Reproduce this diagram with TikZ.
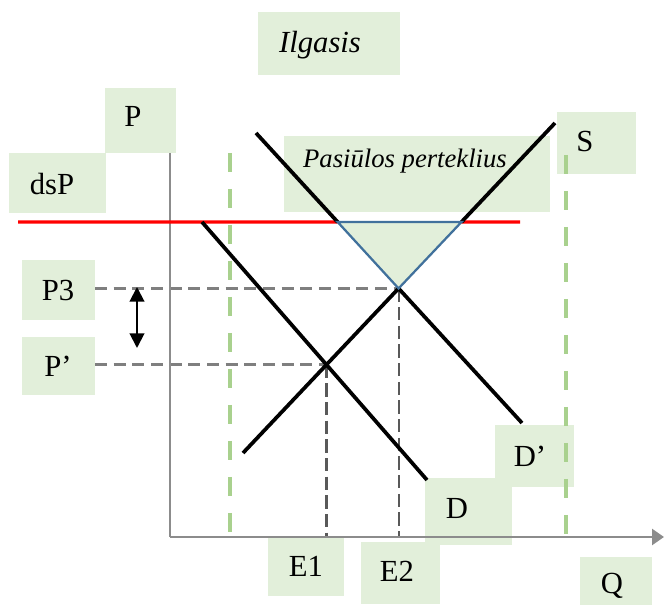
\documentclass[tikz,border=0pt]{standalone}
\usepackage{fontspec}
\setmainfont{Liberation Serif}
\usetikzlibrary{arrows.meta}
\definecolor{boxgreen}{HTML}{E2EFDA}
\definecolor{dashgreen}{HTML}{A9D18E}
\definecolor{axisgrey}{HTML}{8C8C8C}
\definecolor{guidegrey}{HTML}{7F7F7F}
\definecolor{guidedark}{HTML}{595959}
\definecolor{triblue}{HTML}{41719C}
\tikzset{
  bgbox/.style={fill=boxgreen, draw=none},
  lbl/.style={font=\fontsize{23}{27}\selectfont, inner sep=0pt},
  curve/.style={line width=2.8pt, black},
  axisline/.style={line width=2pt, axisgrey},
  guideh/.style={line width=2pt, guidegrey, dash pattern=on 9pt off 5pt},
  guidev/.style={line width=1.6pt, guidedark, dash pattern=on 10pt off 4pt},
  greendash/.style={line width=3.4pt, dashgreen, dash pattern=on 14pt off 13pt},
}
\begin{document}
\begin{tikzpicture}[x=0.75pt, y=-0.75pt]
\useasboundingbox (0,0) rectangle (664,605);
% background boxes
\fill[bgbox] (258,12) rectangle (400,75);
\fill[bgbox] (105,88) rectangle (176,153);
\fill[bgbox] (9,153) rectangle (106,213);
\fill[bgbox] (22,260) rectangle (95,320);
\fill[bgbox] (22,337) rectangle (95,395);
\fill[bgbox] (284,136) rectangle (550,212);
\fill[bgbox] (557,112) rectangle (636,174);
\fill[bgbox] (495,425) rectangle (574,487);
\fill[bgbox] (425,478) rectangle (512,545);
\fill[bgbox] (268,536) rectangle (344,596);
\fill[bgbox] (361,542) rectangle (440,604);
\fill[bgbox] (580,557) rectangle (652,605);
% labels
\node[lbl, font=\fontsize{23}{27}\selectfont\itshape] (ilg) at (320,45) {Ilgasis};
\node[lbl] (pl) at (133,116) {P};
\node[lbl] (dsp) at (52,184) {dsP};
\node[lbl] (p3) at (58,291) {P3};
\node[lbl] (pp) at (58,366) {P’};
\node[lbl, font=\fontsize{20}{24}\selectfont\itshape] (pert) at (405,161) {Pasiūlos perteklius};
\node[lbl] (sl) at (585,142) {S};
\node[lbl] (dpl) at (530,456) {D’};
\node[lbl] (dl) at (457,508) {D};
\node[lbl] (e1) at (306,566) {E1};
\node[lbl] (e2) at (397,571) {E2};
\node[lbl] (ql) at (612,586) {Q};
% coordinates
\coordinate (o) at (170,537);
\coordinate (ytop) at (170,153);
\coordinate (xend) at (664,537);
\coordinate (rl) at (18,222);
\coordinate (rr) at (520,222);
\coordinate (dtop) at (202,222);
\coordinate (dbot) at (427,480);
\coordinate (dptop) at (256,133);
\coordinate (dpbot) at (522,423);
\coordinate (sbot) at (243,453);
\coordinate (stop) at (555,123);
\coordinate (ta) at (intersection of dptop--dpbot and rl--rr);
\coordinate (tb) at (intersection of sbot--stop and rl--rr);
\coordinate (eq2) at (intersection of dptop--dpbot and sbot--stop);
\coordinate (eq1) at (intersection of dtop--dbot and sbot--stop);
\coordinate (p3r) at (95,0 |- eq2);
\coordinate (ppr) at (95,0 |- eq1);
\coordinate (e1b) at (eq1 |- o);
\coordinate (e2b) at (eq2 |- o);
\coordinate (g1t) at (230,153);
\coordinate (g1b) at (230,537);
\coordinate (g2t) at (566,155);
\coordinate (g2b) at (566,537);
\coordinate (ar1) at (137,287);
\coordinate (ar2) at (137,348);
% triangle (surplus)
\fill[boxgreen] (ta) -- (tb) -- (eq2) -- cycle;
% green dashed lines
\draw[greendash] (g1t) -- (g1b);
\draw[greendash] (g2t) -- (g2b);
% guides
\draw[guideh] (p3r) -- (eq2);
\draw[guideh] (ppr) -- (eq1);
\draw[guidev] (eq1) -- (e1b);
\draw[guidev] (eq2) -- (e2b);
% axes
\draw[axisline] (ytop) -- (o);
\draw[axisline, -{Triangle[length=9pt,width=12pt]}] (o) -- (xend);
% red line
\draw[red, line width=2.4pt] (rl) -- (ta);
\draw[red, line width=2.4pt] (tb) -- (rr);
% curves
\draw[curve] (dtop) -- (dbot);
\draw[curve] (dptop) -- (ta);
\draw[curve] (eq2) -- (dpbot);
\draw[curve] (sbot) -- (eq2);
\draw[curve] (tb) -- (stop);
% triangle outline
\draw[triblue, line width=1.7pt, line join=miter] (ta) -- (tb) -- (eq2) -- cycle;
% double arrow
\draw[line width=1.5pt, {Triangle[length=11pt,width=11pt]}-{Triangle[length=11pt,width=11pt]}] (ar1) -- (ar2);
\end{tikzpicture}
\end{document}
